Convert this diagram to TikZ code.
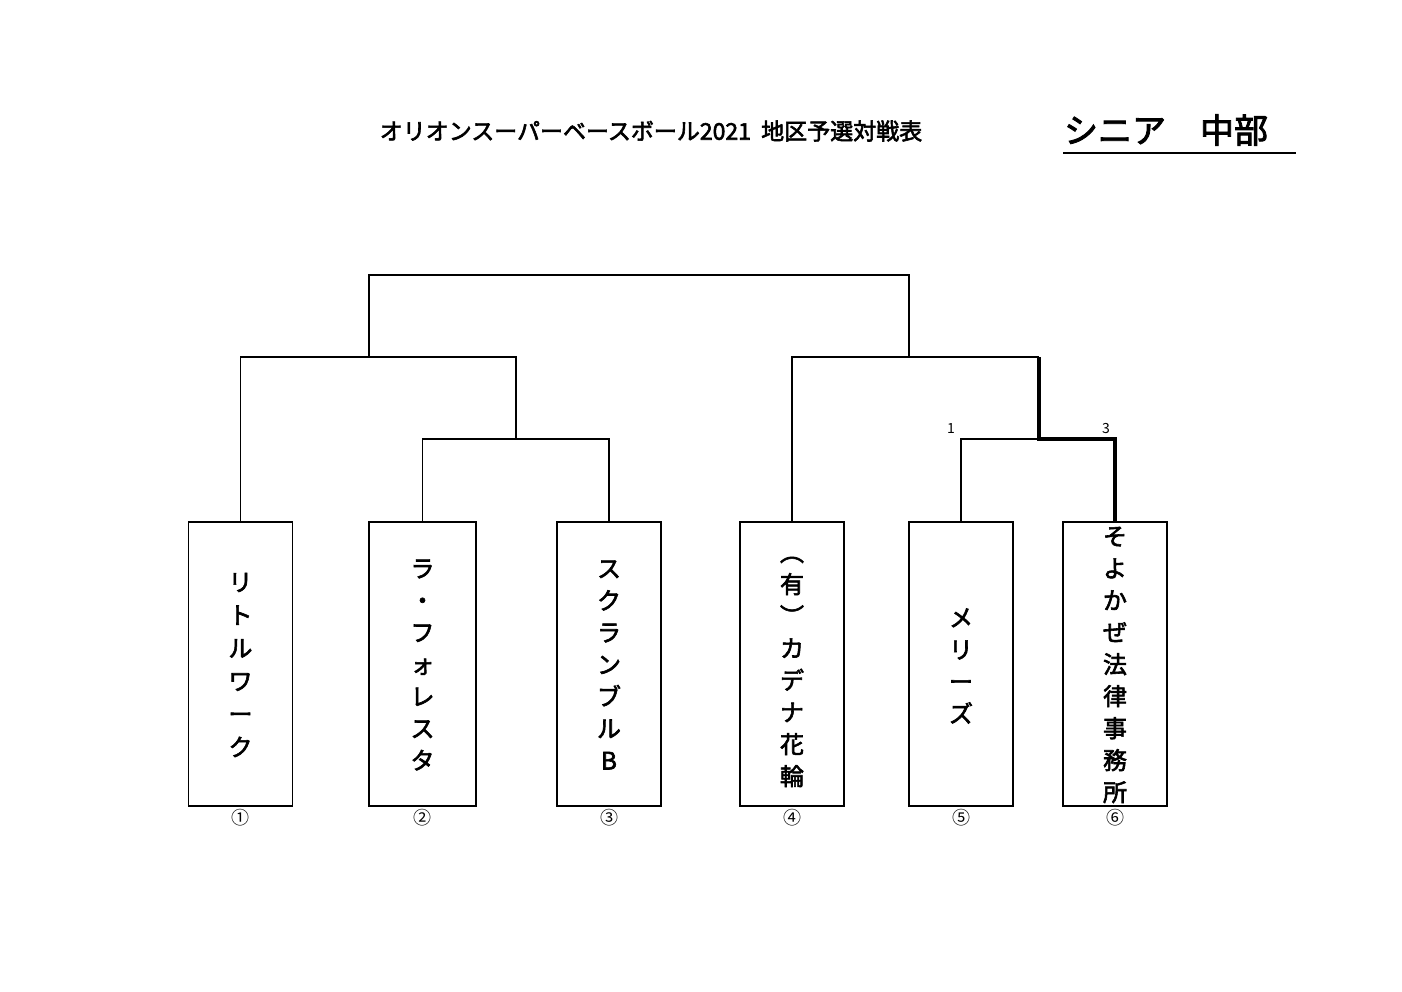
\documentclass[tikz,border=0pt]{standalone}
\usepackage{fontspec}
\setmainfont[FakeBold=2.5]{Noto Sans CJK JP}
\newfontfamily\thinjp{Noto Sans CJK JP}
\begin{document}
\begin{tikzpicture}[x=1pt,y=-1pt,
  teambox/.style={draw,line width=1.8pt,minimum width=104pt,minimum height=284pt,inner sep=0pt},
  teamname/.style={align=center,inner sep=0pt,font=\fontsize{24}{32}\selectfont},
  wire/.style={line width=1.8pt,line join=miter},
  winwire/.style={line width=4.5pt,line join=miter},
  num/.style={inner sep=0pt,font=\thinjp\fontsize{18}{18}\selectfont},
  score/.style={inner sep=0pt,font=\thinjp\fontsize{14}{14}\selectfont}]
\useasboundingbox (0,0) rectangle (1402,992);
% titles
\node[inner sep=0pt,font=\fontsize{23}{23}\selectfont] (title) at (651,131) {オリオンスーパーベースボール2021\ \ 地区予選対戦表};
\node[inner sep=0pt,font=\fontsize{34}{34}\selectfont] (region) at (1166,130) {シニア　中部};
\coordinate (ul1) at (1063,153);
\coordinate (ul2) at (1296,153);
\draw[line width=2.5pt] (ul1) -- (ul2);
% boxes
\node[teambox] (b1) at (240.5,664) {};
\node[teambox,minimum width=107pt] (b2) at (422.5,664) {};
\node[teambox] (b3) at (609,664) {};
\node[teambox] (b4) at (792,664) {};
\node[teambox] (b5) at (961,664) {};
\node[teambox] (b6) at (1115,664) {};
% names
\node[teamname,font=\fontsize{24}{33}\selectfont] (t1) at (240.5,665) {リ\\ト\\ル\\ワ\\ー\\ク};
\node[teamname] (t2) at (422.5,665) {ラ\\・\\フ\\ォ\\レ\\ス\\タ};
\node[teamname] (t3) at (609,665) {ス\\ク\\ラ\\ン\\ブ\\ル\\B};
\node[teamname] (t4) at (792,672) {︵\\有\\︶\\カ\\デ\\ナ\\花\\輪};
\node[teamname] (t5) at (961,666) {メ\\リ\\ー\\ズ};
\node[teamname] (t6) at (1115,665) {そ\\よ\\か\\ぜ\\法\\律\\事\\務\\所};
% numbers
\node[num] (n1) at (240.5,818) {①};
\node[num] (n2) at (422.5,818) {②};
\node[num] (n3) at (609,818) {③};
\node[num] (n4) at (792,818) {④};
\node[num] (n5) at (961,818) {⑤};
\node[num] (n6) at (1115,818) {⑥};
% bracket points
\coordinate (q23) at (516,439);
\coordinate (s1) at (369,357);
\coordinate (q56) at (1039,439);
\coordinate (r56) at (1039,357);
\coordinate (s2) at (909,357);
\coordinate (top) at (639,275);
\draw[wire] (b2.north) |- (q23) -| (b3.north);
\draw[wire] (b1.north) |- (s1) -| (q23);
\draw[wire] (b5.north) |- (q56);
\draw[wire] (b4.north) |- (s2) -- (r56);
\draw[wire] (s1) |- (top) -| (s2);
\draw[winwire] (b6.north) |- (q56) -- (r56);
% scores
\node[score] (sc1) at (951,429) {1};
\node[score] (sc3) at (1106,429) {3};
\end{tikzpicture}
\end{document}
